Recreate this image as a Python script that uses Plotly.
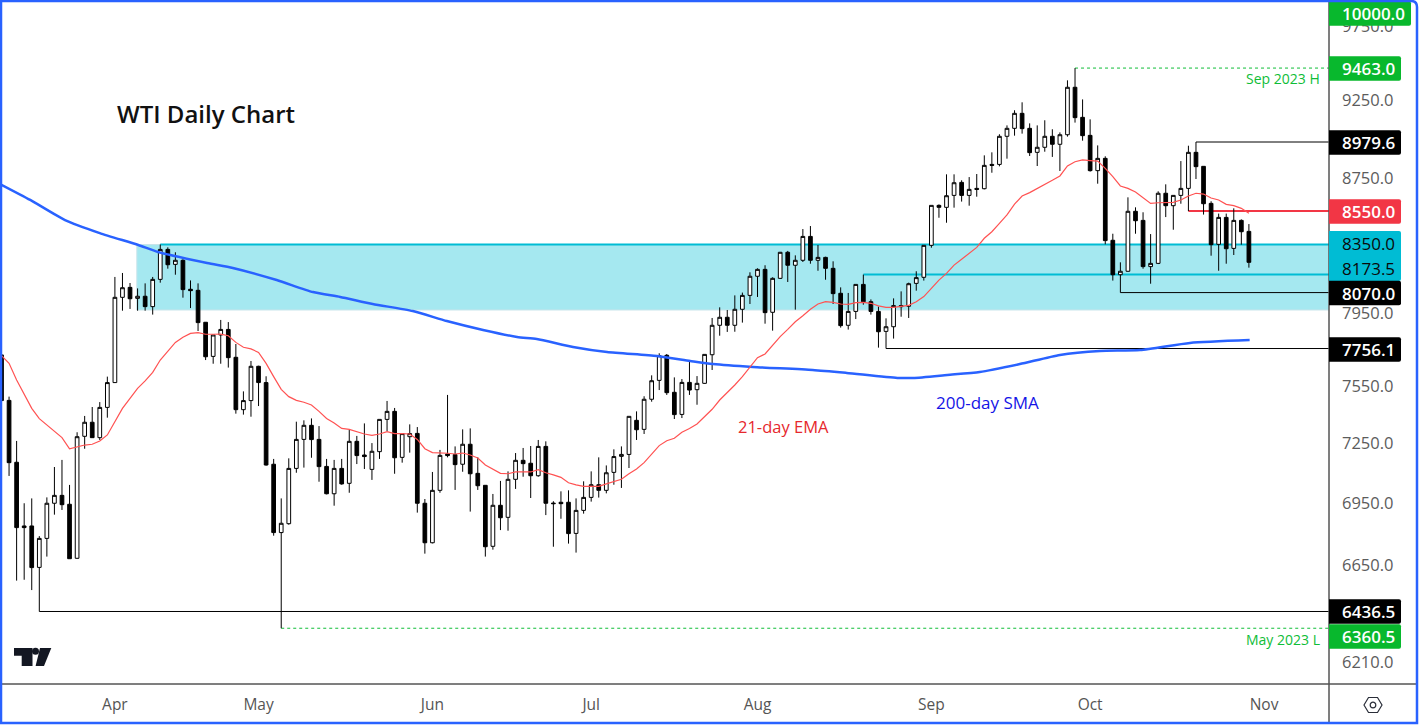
import math
import plotly.graph_objects as go

# ---- data ----
opens = [7721,7476,7155,6839,6839,6641,6779,6950,6989,6945,6684,7288,7361,7281,7439,7571,8043,8100,8037,8049,7990,8146,8321,8233,8257,8089,8083,7902,
7713,7831,7862,7708,7427,7475,7659,7571,7145,6807,6850,7124,7272,7345,7272,7134,6997,7124,7049,7262,7192,7119,7209,7376,7418,7180,7286,7303,
6950,6758,7014,7197,7194,7145,7247,7099,7039,6741,6940,6881,7069,7165,7150,7087,7236,6951,6955,6955,6803,6915,6979,7042,7014,7104,7185,7195,
7371,7324,7482,7583,7719,7519,7402,7572,7533,7567,7722,7885,7930,7885,7975,8054,8164,8204,7958,8152,8304,8228,8257,8398,8257,8274,8210,8066,
7885,7963,8117,8018,7963,7851,7877,7996,7992,8123,8158,8345,8585,8573,8646,8726,8646,8689,8687,8838,8838,9016,9067,9164,9067,8914,8946,9016,
8965,9026,9335,9138,9022,8799,8876,8375,8173,8193,8549,8494,8220,8239,8659,8583,8646,8689,8914,8826,8597,8351,8512,8327,8494,8428]
highs = [7752,7496,7264,6950,6974,6790,6979,7131,7167,7041,7309,7394,7441,7467,7603,8160,8183,8125,8094,8123,8160,8350,8333,8304,8263,8140,8123,7903,
7831,7915,7903,7781,7524,7688,7662,7605,7172,6974,7175,7364,7371,7381,7341,7172,7167,7172,7321,7290,7355,7253,7376,7473,7436,7302,7350,7336,
6971,7106,7218,7505,7236,7324,7329,7180,7039,6996,7061,7109,7202,7228,7238,7269,7262,6960,7009,7014,6974,7059,7109,7180,7139,7221,7236,7392,
7418,7498,7610,7730,7726,7599,7590,7688,7606,7724,7926,7986,7971,8054,8070,8187,8210,8228,8158,8306,8312,8286,8442,8460,8347,8278,8251,8100,
8068,8117,8173.5,8031,7990,7924,8037,8077,8127,8193,8347,8585,8591,8776,8776,8739,8759,8778,8895,8914,9029,9086,9184,9236,9099,9086,9119,9061,
9041,9381,9463,9255,9125,8958,8889,8414,8245,8634,8573,8543,8412,8671,8714,8648,8859,8956,8979.6,8826,8610,8535,8535,8567,8500,8472]
lows = [7238,7086,6579,6583,6535,6436.5,6692,6894,6917,6682,6682,7224,7281,7269,7385,7571,7967,7977,7967,7967,7945,8127,8208,8173,8041,7982,7853,7693,
7673,7673,7652,7406,7401,7390,7446,7138,6792,6360.5,6845,7102,7128,7178,7057,6994,6938,7042,7002,7146,7121,7066,7172,7315,7097,7153,7204,6904,
6706,6755,7002,7180,7016,7107,6909,7016,6692,6725,6819,6816,7021,7082,6976,7082,6892,6739,6874,6754,6711,6899,6958,6978,6999,7042,7026,7126,
7269,7300,7469,7531,7505,7378,7383,7505,7453,7565,7639,7827,7848,7849,7900,8005,8045,7894,7855,8148,8131,7973,8247,8237,8196,8144,8005,7872,
7861,7920,8001,7945,7761,7756.1,7811,7933,7926,8081,8139,8331,8510,8480,8571,8608,8583,8638,8683,8786,8826,8874,9020,9033,8891,8828,8918,8885,
8797,9014,9104,8988,8793,8718,8351,8139,8070,8191,8414,8208,8121,8235,8514,8438,8595,8550,8747,8529,8284,8196,8237,8288,8349,8214]
closes = [7475,7153,6831,6831,6640,6779,6950,6989,6943,6682,7286,7361,7281,7439,7571,8043,8098,8035,8049,7990,8146,8321,8231,8257,8087,8081,7900,7711,
7831,7862,7706,7427,7475,7659,7571,7141,6807,6852,7124,7272,7345,7271,7133,6997,7124,7046,7262,7189,7184,7211,7376,7418,7178,7302,7302,6950,
6758,7014,7190,7189,7143,7247,7097,7037,6739,6940,6879,7069,7165,7148,7087,7236,6950,6948,6948,6802,6915,6979,7042,7014,7102,7184,7195,7392,
7322,7482,7581,7717,7517,7401,7572,7531,7567,7724,7885,7930,7885,7975,8054,8164,8204,7956,8152,8304,8228,8257,8398,8257,8274,8210,8064,7883,
7963,8117,8018,7963,7849,7877,7996,7990,8121,8156,8345,8585,8573,8644,8724,8646,8683,8683,8832,8832,9016,9067,9164,9065,8912,8946,9016,8965,
9026,9335,9136,9020,8799,8876,8373,8173,8193,8549,8492,8220,8239,8659,8583,8646,8689,8914,8824,8595,8349,8512,8325,8494,8426,8245]
ema21 = [7717,7675,7585,7505,7434,7380,7347,7312,7281,7224,7233,7243,7247,7264,7295,7366,7434,7487,7540,7580,7626,7693,7743,7790,7818,7840,7844,7835,
7835,7836,7827,7790,7763,7754,7735,7675,7603,7535,7496,7476,7466,7452,7418,7381,7357,7329,7324,7310,7300,7293,7300,7312,7302,7302,7300,7272,
7224,7204,7204,7201,7197,7202,7192,7177,7141,7121,7099,7097,7106,7107,7106,7118,7102,7091,7079,7052,7041,7034,7034,7034,7046,7057,7069,7097,
7121,7153,7194,7240,7265,7278,7309,7328,7352,7390,7429,7478,7517,7558,7603,7657,7706,7726,7772,7822,7862,7905,7939,7975,8005,8018,8014,8005,
8003,8013,8014,8009,7994,7986,7986,7990,7997,8018,8047,8094,8142,8181,8229,8263,8298,8333,8387,8426,8476,8527,8593,8642,8663,8687,8716,8739,
8766,8828,8855,8866,8862,8859,8813,8762,8704,8689,8667,8634,8597,8601,8601,8603,8618,8642,8659,8654,8630,8618,8591,8583,8567,8537]
sma_session = [-0.2,3.8,8.4,13.0,18.1,20.7,27.2,30.6,36.4,41.2,44.8,49.1,54.4,58.9,63.7,68.2,70.8,75.6,80.1,86.7,91.1,94.1,99.4,107.3,111.8,118.5,120.6,125.1,129.4,134.7,140.0,145.3,150.6,157.2,165.1]
sma200 = [8716,8618,8496,8418,8347,8306,8241,8212,8142,8073,8045,8005,7965,7909,7859,7820,7809,7765,7737,7715,7688,7671,7655,7639,7623,7596,7596,7612,7628,7671,7721,7743,7748,7787,7803]

month_pos = [15,34,57,78,100,123,144,167]
month_labels = ["Apr","May","Jun","Jul","Aug","Sep","Oct","Nov"]
price_ticks = [9750,9250,8750,7950,7550,7250,6950,6650,6210]

zone_top, zone_bottom = 8350, 7971
zone_start = 17.9
# level, first session, colour, width, dash
levels = [(9463,142,"#0fbd37",1,"dot"),(8979.6,158,"black",1,"solid"),(8550,157,"#f23645",2,"solid"),
          (8350,21,"#00bcd4",2,"solid"),(8173.5,114,"#00bcd4",2,"solid"),(8070,148,"black",1,"solid"),
          (7756.1,117,"black",1,"solid"),(6436.5,5,"black",1,"solid"),(6360.5,37,"#0fbd37",1,"dot")]
# tag text, y-centre px, fill, text colour, right edge px
tags = [("10000.0",13.5,"#08b82d","white",1411),("9463.0",68.5,"#08b82d","white",1401),("8979.6",142.5,"black","white",1401),
        ("8550.0",211.5,"#f23645","white",1401),("8070.0",293,"black","white",1401),("7756.1",349.5,"black","white",1401),
        ("6436.5",611.5,"black","white",1401),("6360.5",636.5,"#08b82d","white",1401)]

assert len(opens)==len(highs)==len(lows)==len(closes)==len(ema21)==166
sessions = list(range(len(opens)))

W,H = 1420,725
AX_R,AX_B = 1329,684
px = lambda x: x/W
py = lambda y: 1-y/H
x_lo = (0-1.5)/7.56; x_hi = (AX_R-1.5)/7.56
p_top = 6210*math.exp(662/1410); p_bot = 6210*math.exp((662-AX_B)/1410)

fig = go.Figure()
shapes=[dict(type="rect",xref="x",yref="y",x0=zone_start,x1=x_hi,y0=zone_bottom,y1=zone_top,fillcolor="#a5e8f0",
             line=dict(color="#c8e4ea",width=1),layer="below")]
for lv,start,col,w,dash in levels:
    if col!="black":
        shapes.append(dict(type="line",xref="x",yref="y",x0=start,x1=x_hi,y0=lv,y1=lv,line=dict(color=col,width=w,dash=dash),layer="below"))
fig.add_trace(go.Candlestick(x=sessions,open=opens,high=highs,low=lows,close=closes,whiskerwidth=0,
    increasing=dict(line=dict(color="black",width=1),fillcolor="white"),
    decreasing=dict(line=dict(color="black",width=1),fillcolor="black"),hoverinfo="skip"))
for lv,start,col,w,dash in levels:
    if col=="black":
        fig.add_trace(go.Scatter(x=[start,x_hi],y=[lv,lv],mode="lines",line=dict(color=col,width=w,dash=dash),hoverinfo="skip"))
fig.add_trace(go.Scatter(x=sma_session,y=sma200,mode="lines",line=dict(color="#2962ff",width=2.5,shape="spline",smoothing=0.6),hoverinfo="skip"))
fig.add_trace(go.Scatter(x=sessions,y=ema21,mode="lines",line=dict(color="#ff5252",width=1.2),hoverinfo="skip"))

def rounded(x0,y0,x1,y1,r):
    c=lambda x,y:f"{px(x)} {py(y)}"
    return (f"M{c(x0,y0)} L{c(x1-r,y0)} Q{c(x1,y0)} {c(x1,y0+r)} L{c(x1,y1-r)} Q{c(x1,y1)} {c(x1-r,y1)} L{c(x0,y1)} Z")
def poly(pts):
    return "M"+" L".join(f"{px(x)} {py(y)}" for x,y in pts)+" Z"
def pshape(path,fill=None,line=None,lw=1):
    d=dict(type="path",path=path,xref="paper",yref="paper",layer="above",line=dict(width=lw if line else 0,color=line or "rgba(0,0,0,0)"))
    if fill: d["fillcolor"]=fill
    return d
# axis frame
shapes.append(pshape(poly([(AX_R,0),(AX_R,722)]),line="#555555",lw=1))
shapes.append(pshape(poly([(0,AX_B),(1416,AX_B)]),line="#555555",lw=1))
ann=[]
fontf="Open Sans"
# price tags
shapes.append(pshape(rounded(AX_R,231,1401,281,2),fill="#00bcd4"))
for label,yc in (("8350.0",243.5),("8173.5",268.5)):
    ann.append(dict(x=px(1340),y=py(yc),xref="paper",yref="paper",xanchor="left",yanchor="middle",showarrow=False,text=label,
        font=dict(family=fontf,size=17,color="#0a0a0a")))
for label,yc,fill,tc,right in tags:
    shapes.append(pshape(rounded(AX_R,yc-12.3,right,yc+12.3,2),fill=fill))
    ann.append(dict(x=px(1340),y=py(yc),xref="paper",yref="paper",xanchor="left",yanchor="middle",showarrow=False,text=label,
        font=dict(family=fontf,size=17,color=tc,weight=600)))
# text labels
def label(text,x,y,size,color,anchor="left",weight=None):
    f=dict(family=fontf,size=size,color=color)
    if weight: f["weight"]=weight
    ann.append(dict(x=px(x),y=py(y),xref="paper",yref="paper",xanchor=anchor,yanchor="middle",showarrow=False,text=text,font=f))
label("WTI Daily Chart",115,113.5,24,"#111111",weight=600)
label("Sep 2023 H",1322,79,14,"#0fbd37","right")
label("May 2023 L",1322,639,14,"#0fbd37","right")
label("21-day EMA",736,426,16.5,"#e6282d")
label("200-day SMA",934,402,17,"#1414e6")
# TradingView mark
shapes.append(pshape(poly([(14,648),(32.5,648),(32.5,666),(21.7,666),(21.7,655.7),(14,655.7)]),fill="#131722"))
shapes.append(dict(type="circle",xref="paper",yref="paper",x0=px(32),x1=px(39),y0=py(654.8),y1=py(647.8),fillcolor="#131722",line=dict(width=0),layer="above"))
shapes.append(pshape(poly([(40,648),(51.3,648),(44,666),(35.6,666)]),fill="#131722"))
# settings hexagon
shapes.append(pshape(poly([(1364,705),(1368.5,697.5),(1377.5,697.5),(1382,705),(1377.5,712.5),(1368.5,712.5)]),line="#2a2e39",lw=1.2))
shapes.append(dict(type="circle",xref="paper",yref="paper",x0=px(1370.2),x1=px(1375.8),y0=py(707.8),y1=py(702.2),line=dict(width=1.2,color="#2a2e39"),layer="above"))
# window frame
c=lambda x,y:f"{px(x)} {py(y)}"
fx0,fy0,fx1,fy1,r=1,1,1417,723,6
shapes.append(pshape(f"M{c(fx0,fy0)} L{c(fx1-r,fy0)} Q{c(fx1,fy0)} {c(fx1,fy0+r)} L{c(fx1,fy1)} L{c(fx0,fy1)} Z",line="#2962ff",lw=2.5))

fig.update_layout(width=W,height=H,margin=dict(l=0,r=0,t=0,b=0),paper_bgcolor="white",plot_bgcolor="white",
    showlegend=False,hovermode=False,shapes=shapes,annotations=ann,
    xaxis=dict(domain=[0,px(AX_R)],range=[x_lo,x_hi],rangeslider=dict(visible=False),showgrid=False,zeroline=False,showline=False,
        tickmode="array",tickvals=month_pos,ticktext=month_labels,ticks="",ticklabelstandoff=9,
        tickfont=dict(family=fontf,size=15.5,color="#555555",weight=500),anchor="y"),
    yaxis=dict(domain=[1-AX_B/H,1],type="log",range=[math.log10(p_bot),math.log10(p_top)],side="right",showgrid=False,zeroline=False,showline=False,
        tickmode="array",tickvals=price_ticks,ticktext=[f"{v}.0" for v in price_ticks],ticks="",ticklabelstandoff=12,
        tickfont=dict(family=fontf,size=16.5,color="#5c5c5c"),anchor="x"))
fig.write_html("out.html",config={"displayModeBar":False},
    post_script="document.body.style.margin='0';document.body.style.overflow='hidden';")
